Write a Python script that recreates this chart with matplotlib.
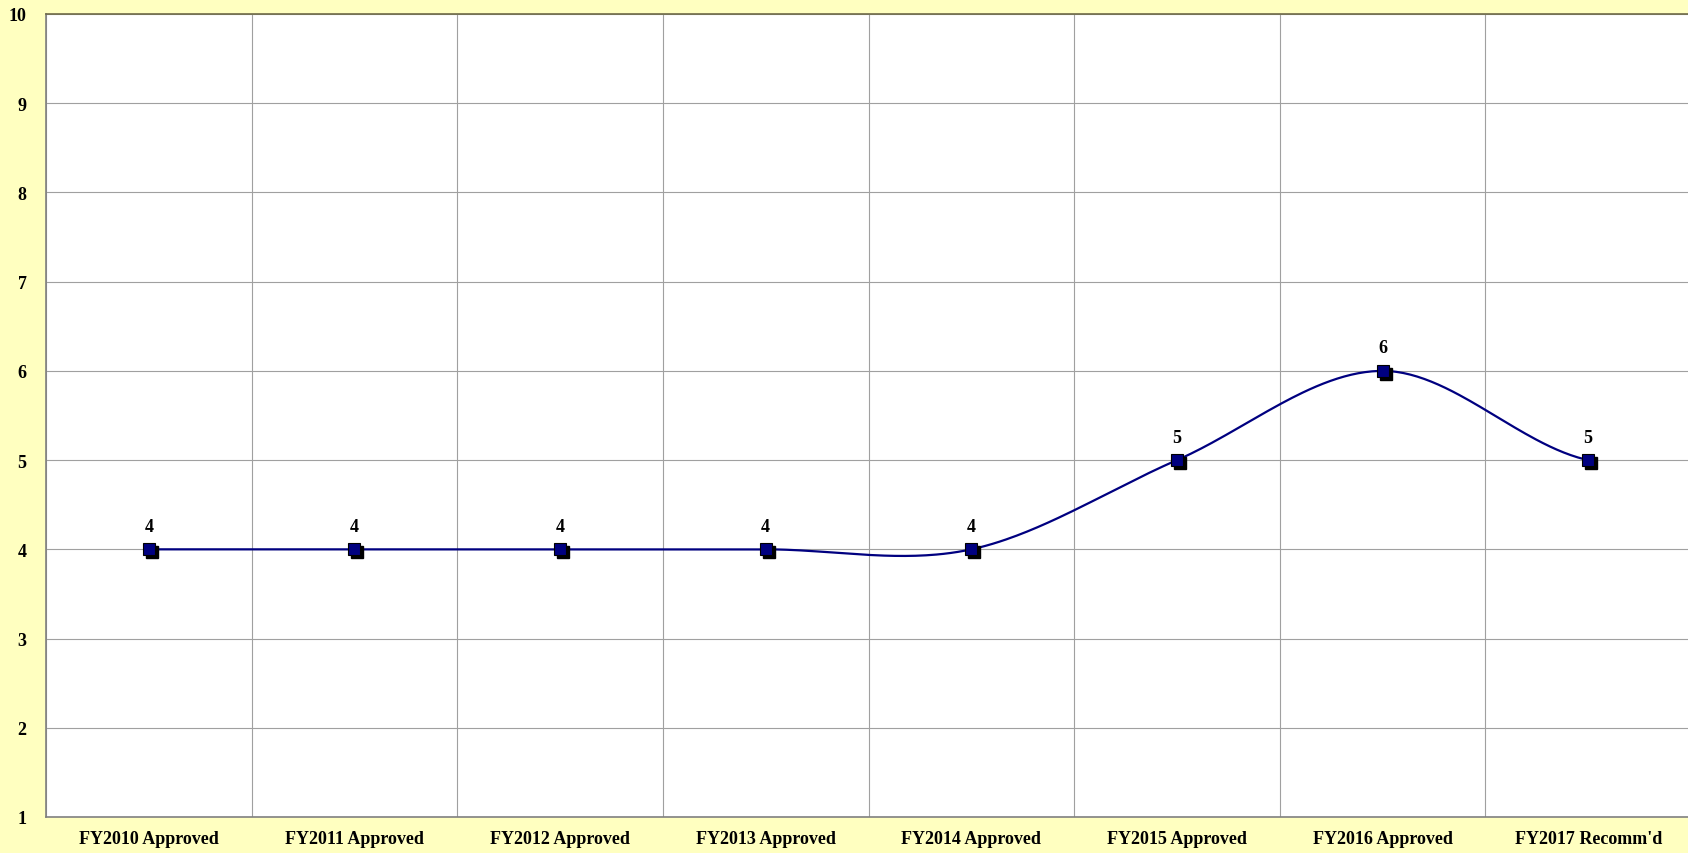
import numpy as np
import matplotlib
matplotlib.use("Agg")
import matplotlib.pyplot as plt
import matplotlib.transforms as mtransforms

categories = ["FY2010 Approved", "FY2011 Approved", "FY2012 Approved", "FY2013 Approved",
              "FY2014 Approved", "FY2015 Approved", "FY2016 Approved", "FY2017 Recomm'd"]
values = [4, 4, 4, 4, 4, 5, 6, 5]
y_ticks = [1, 2, 3, 4, 5, 6, 7, 8, 9, 10]

W, H, DPI = 1688, 854, 100
fig = plt.figure(figsize=(W / DPI, H / DPI), dpi=DPI, facecolor="#FFFFC0")
left, right, top, bottom = 46, 1691, 15, 818
ax = fig.add_axes([left / W, 1 - bottom / H, (right - left) / W, (bottom - top) / H])
ax.set_facecolor("white")

n = len(categories)
x = np.arange(n)
y = np.array(values, dtype=float)

# Smoothed line: cubic Hermite segments with Catmull-Rom tangents
xs_all, ys_all = [], []
for i in range(n - 1):
    m0 = (y[i + 1] - y[i - 1]) / 2 if i > 0 else (y[1] - y[0]) / 2
    m1 = (y[i + 2] - y[i]) / 2 if i + 2 < n else (y[n - 1] - y[n - 2]) / 2
    t = np.linspace(0, 1, 60)
    h00 = 2 * t**3 - 3 * t**2 + 1
    h10 = t**3 - 2 * t**2 + t
    h01 = -2 * t**3 + 3 * t**2
    h11 = t**3 - t**2
    xs_all.append(x[i] + t)
    ys_all.append(h00 * y[i] + h10 * m0 + h01 * y[i + 1] + h11 * m1)
ax.plot(np.concatenate(xs_all), np.concatenate(ys_all), color="#000080", lw=1.6, zorder=3,
        solid_capstyle="round")

# Markers with a drop shadow
shadow = mtransforms.offset_copy(ax.transData, fig=fig, x=3, y=-3, units="dots")
ax.plot(x, y, linestyle="none", marker="s", markersize=9, color="black",
        transform=shadow, zorder=4)
ax.plot(x, y, linestyle="none", marker="s", markersize=9, markerfacecolor="#000080",
        markeredgecolor="black", markeredgewidth=0.8, zorder=5)

serif = ["Liberation Serif", "DejaVu Serif"]
for xi, v in zip(x, values):
    ax.annotate(str(v), (xi, v), xytext=(0, 10.5), textcoords="offset points",
                ha="center", va="bottom", fontsize=13, fontweight="bold",
                family=serif, color="black", zorder=6)

ax.set_xlim(-0.5, n - 0.5)
ax.set_ylim(1, 10)
ax.set_yticks(y_ticks)
ax.set_yticklabels([str(t) for t in y_ticks], fontsize=13, fontweight="bold", family=serif)
ax.set_xticks(x)
ax.set_xticklabels(categories, fontsize=13, fontweight="bold", family=serif)
ax.set_xticks(np.arange(n + 1) - 0.5, minor=True)
ax.tick_params(axis="both", which="both", length=0)
ax.tick_params(axis="y", pad=14)
ax.tick_params(axis="x", pad=9.5)

ax.grid(True, axis="y", which="major", color="#A0A0A0", lw=0.8)
ax.grid(True, axis="x", which="minor", color="#A0A0A0", lw=0.8)
ax.grid(False, axis="x", which="major")
ax.set_axisbelow(True)

for s in ["left", "bottom"]:
    ax.spines[s].set_color("#808080")
    ax.spines[s].set_linewidth(1.2)
ax.spines["top"].set_color("#6E6A48")
ax.spines["top"].set_linewidth(1.2)
ax.spines["right"].set_visible(False)

fig.savefig("out.png", dpi=DPI, facecolor=fig.get_facecolor())
